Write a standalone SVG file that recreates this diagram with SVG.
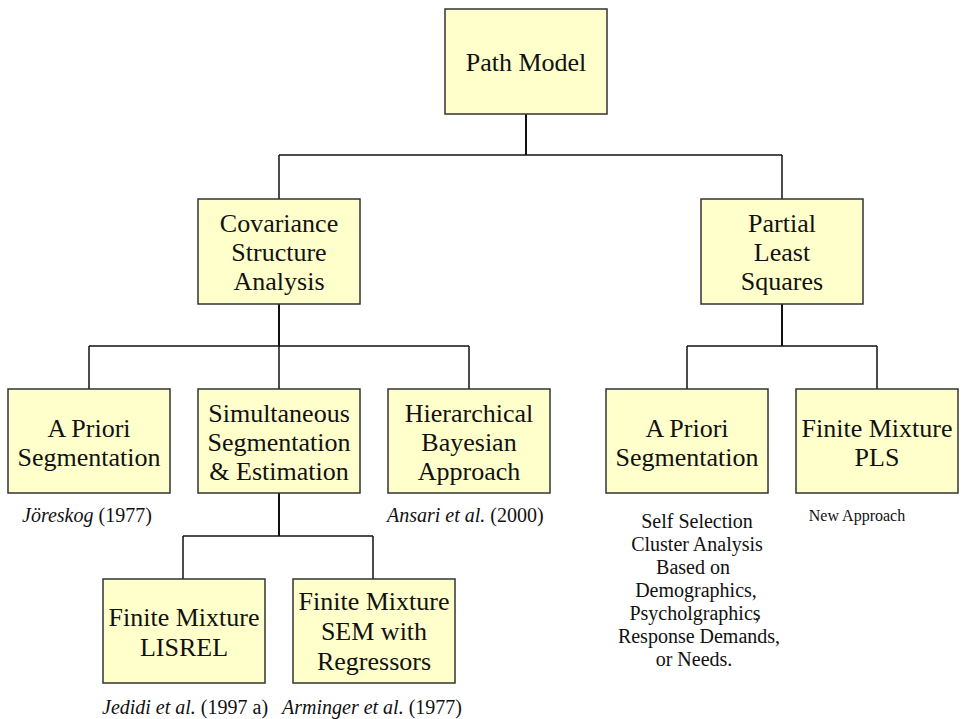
<svg xmlns="http://www.w3.org/2000/svg" width="965" height="719" viewBox="0 0 965 719">
<style>
.box{fill:#FFFFCC;stroke:#333333;stroke-width:1.5}
.lbl{font-family:"Liberation Serif","Times New Roman",serif;font-size:26px;fill:#111;text-anchor:middle}
.note{font-family:"Liberation Serif","Times New Roman",serif;font-size:20px;fill:#111}
.it{font-style:italic}
.conn line{stroke:#111;stroke-width:1.5}
</style>
<rect width="965" height="719" fill="#ffffff"/>
<g id="connectors" class="conn">
<line x1="526" y1="114" x2="526" y2="155" style="stroke-width:2"/>
<line x1="279" y1="155" x2="782" y2="155"/>
<line x1="279" y1="155" x2="279" y2="199"/>
<line x1="782" y1="155" x2="782" y2="199"/>
<line x1="279" y1="304" x2="279" y2="346" style="stroke-width:2"/>
<line x1="89" y1="346" x2="469" y2="346"/>
<line x1="89" y1="346" x2="89" y2="389"/>
<line x1="279" y1="346" x2="279" y2="389"/>
<line x1="469" y1="346" x2="469" y2="389"/>
<line x1="782" y1="304" x2="782" y2="346" style="stroke-width:2"/>
<line x1="687" y1="346" x2="877" y2="346"/>
<line x1="687" y1="346" x2="687" y2="389"/>
<line x1="877" y1="346" x2="877" y2="389"/>
<line x1="279" y1="493" x2="279" y2="536" style="stroke-width:2"/>
<line x1="183" y1="536" x2="373" y2="536"/>
<line x1="183" y1="536" x2="183" y2="579"/>
<line x1="373" y1="536" x2="373" y2="579"/>
</g>
<g id="path-model">
<rect class="box" x="445" y="9" width="162" height="105"/>
<text class="lbl" x="526" y="71">Path Model</text>
</g>
<g id="covariance">
<rect class="box" x="198" y="199" width="162" height="105"/>
<text class="lbl" x="279" y="231.5">Covariance</text>
<text class="lbl" x="279" y="260.5">Structure</text>
<text class="lbl" x="279" y="289.5">Analysis</text>
</g>
<g id="pls">
<rect class="box" x="701" y="199" width="162" height="105"/>
<text class="lbl" x="782" y="231.5">Partial</text>
<text class="lbl" x="782" y="260.5">Least</text>
<text class="lbl" x="782" y="289.5">Squares</text>
</g>
<g id="apriori-left">
<rect class="box" x="8" y="389" width="162" height="104"/>
<text class="lbl" x="89" y="437">A Priori</text>
<text class="lbl" x="89" y="466">Segmentation</text>
</g>
<g id="simultaneous">
<rect class="box" x="198" y="389" width="162" height="104"/>
<text class="lbl" x="279" y="422">Simultaneous</text>
<text class="lbl" x="279" y="451">Segmentation</text>
<text class="lbl" x="279" y="480">&amp; Estimation</text>
</g>
<g id="hierarchical">
<rect class="box" x="388" y="389" width="162" height="104"/>
<text class="lbl" x="469" y="422">Hierarchical</text>
<text class="lbl" x="469" y="451">Bayesian</text>
<text class="lbl" x="469" y="480">Approach</text>
</g>
<g id="apriori-right">
<rect class="box" x="606" y="389" width="162" height="104"/>
<text class="lbl" x="687" y="437">A Priori</text>
<text class="lbl" x="687" y="466">Segmentation</text>
</g>
<g id="fm-pls">
<rect class="box" x="796" y="389" width="162" height="104"/>
<text class="lbl" x="877" y="437">Finite Mixture</text>
<text class="lbl" x="877" y="466">PLS</text>
</g>
<g id="fm-lisrel">
<rect class="box" x="103" y="579" width="162" height="104"/>
<text class="lbl" x="184" y="626">Finite Mixture</text>
<text class="lbl" x="184" y="656">LISREL</text>
</g>
<g id="fm-sem">
<rect class="box" x="293" y="579" width="162" height="104"/>
<text class="lbl" x="374" y="610">Finite Mixture</text>
<text class="lbl" x="374" y="640">SEM with</text>
<text class="lbl" x="374" y="670">Regressors</text>
</g>
<g id="notes">
<text class="note" x="22" y="522"><tspan class="it">Jöreskog</tspan> (1977)</text>
<text class="note" x="387" y="522"><tspan class="it">Ansari et al.</tspan> (2000)</text>
<text class="note" x="857" y="521" style="font-size:16px;text-anchor:middle">New Approach</text>
<text class="note" x="102" y="714"><tspan class="it">Jedidi et al.</tspan> (1997 a)</text>
<text class="note" x="282" y="714"><tspan class="it">Arminger et al.</tspan> (1977)</text>
<g style="text-anchor:middle">
<text class="note" x="697" y="528">Self Selection</text>
<text class="note" x="697" y="551">Cluster Analysis</text>
<text class="note" x="693" y="574">Based on</text>
<text class="note" x="696" y="597">Demographics,</text>
<text class="note" x="695" y="620">Psycholgraphics<tspan dx="-6">,</tspan></text>
<text class="note" x="699" y="643">Response Demands,</text>
<text class="note" x="694" y="666">or Needs.</text>
</g>
</g>
</svg>
